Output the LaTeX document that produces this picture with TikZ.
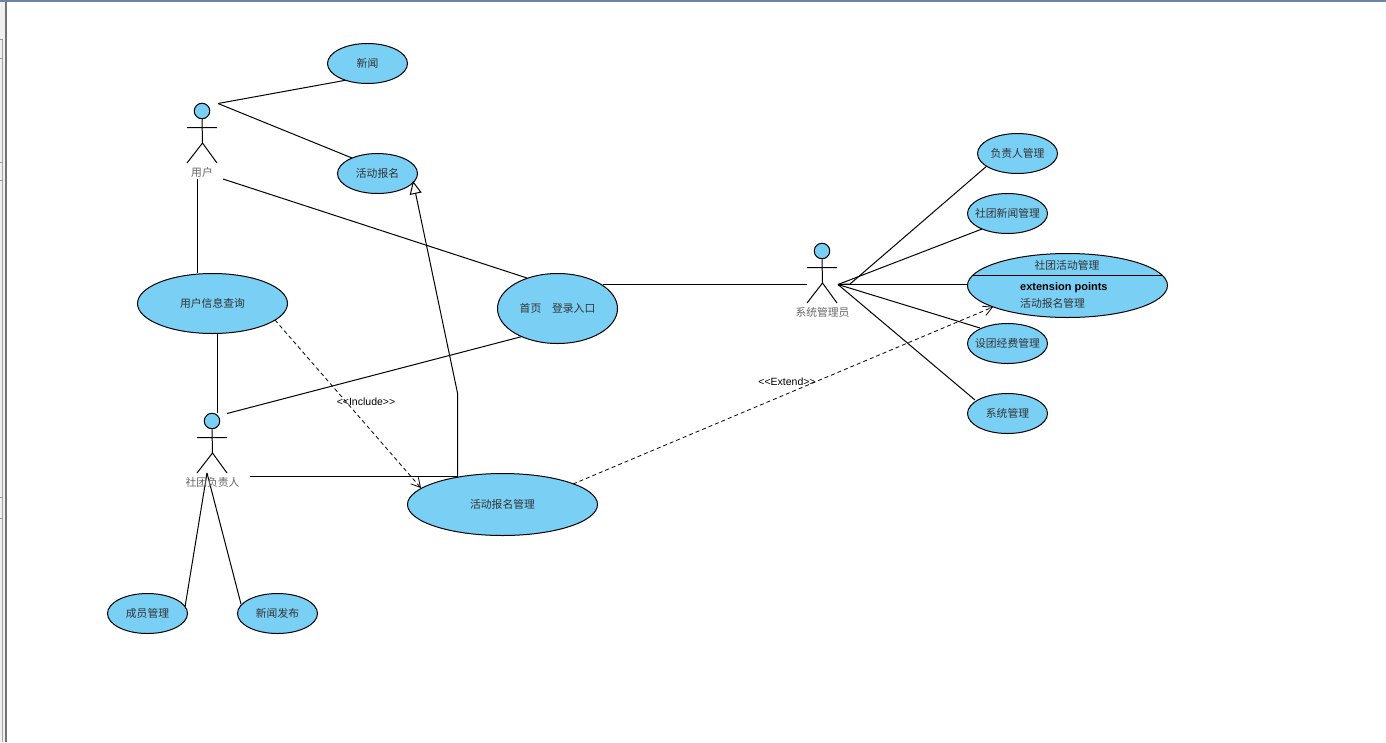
\documentclass[tikz,border=0pt]{standalone}
\usepackage{fontspec}
\setmainfont{Liberation Sans}[Ligatures=NoCommon]
\newfontfamily\cjk{Noto Sans CJK SC}
\usetikzlibrary{arrows.meta,shapes.geometric}
\definecolor{uc}{HTML}{7ACFF5}
\definecolor{txt}{HTML}{333333}
\definecolor{topbar}{HTML}{6A85A5}
\pgfdeclarelayer{front}\pgfsetlayers{main,front}
\newcommand{\uctext}[1]{\makebox[0pt]{\raisebox{-1.1pt}{#1}}}
\tikzset{
  ucase/.style={draw=black,fill=uc,ellipse,line width=1pt,inner sep=0pt,font=\cjk\fontsize{10.8}{12}\selectfont,text=txt},
  conn/.style={draw=black,line width=1pt},
  dep/.style={draw=black,line width=0.8pt,dash pattern=on 4pt off 3pt,-{Straight Barb[length=9pt,width=10pt,line width=0.8pt]}},
  gen/.style={draw=black,line width=1pt,-{Triangle[open,fill=white,length=13pt,width=12pt,line width=1pt]}},
  actlabel/.style={font=\cjk\fontsize{10.8}{12}\selectfont,text=black!60,inner sep=0pt},
  steretype/.style={font=\fontsize{10.5}{12}\selectfont,text=black,inner sep=1pt},
  stick/.style={draw=black,line width=1pt},
  head/.style={draw=black,fill=uc,circle,line width=1pt,minimum size=15.5pt,inner sep=0pt}
}
\begin{document}
\begin{tikzpicture}[x=1pt,y=-1pt]
\useasboundingbox (0,0) rectangle (1386,742);
% window chrome
\fill[white] (0,0) rectangle (1386,742);
\fill[black!6] (0,0) rectangle (5,742);
\fill[black!55] (5,0) rectangle (7,742);
\fill[black!35] (2.2,39) rectangle (3.2,742);
\foreach \yy in {39,58,162,180,497,518}{\fill[black!40] (0,\yy) rectangle (3,\yy+1);}
\fill[topbar] (0,0) rectangle (1386,2);
% free ends
\coordinate (uA) at (218,103.5);
\coordinate (uB) at (223,179);
\coordinate (uC) at (197.5,179);
\coordinate (mA) at (217.5,413);
\coordinate (mB) at (227,413.5);
\coordinate (mC) at (250,476.5);
\coordinate (mD) at (207,473);
\coordinate (aA) at (838,284.5);
\coordinate (aBend) at (850,284);
\coordinate (aB) at (807,284.5);
\coordinate (newsE) at (347,80);
\coordinate (signE) at (352,158);
\coordinate (homeA) at (527,278);
\coordinate (homeB) at (524,336);
\coordinate (homeC) at (603,284.5);
\coordinate (queryA) at (197.5,273);
\coordinate (queryB) at (217.5,333);
\coordinate (mgmtT) at (457.5,476.5);
\coordinate (bend) at (457.5,393);
\coordinate (signT) at (413,181);
\coordinate (memE) at (185,607);
\coordinate (pubE) at (241,604);
\coordinate (depI) at (275,320);
\coordinate (depIe) at (421,488);
\coordinate (depE) at (573,484);
\coordinate (depEe) at (993,307);
\coordinate (ownE) at (988,165);
\coordinate (cnE) at (982,229);
\coordinate (actE2) at (968,284.5);
\coordinate (fundE) at (980,328);
\coordinate (sysE) at (975,400);
\begin{pgfonlayer}{front}
\node[ucase,minimum width=80pt,minimum height=40pt] (news) at (367.5,63.5) {\uctext{新闻}};
\node[ucase,minimum width=80pt,minimum height=40pt] (signup) at (377.5,173.5) {\uctext{活动报名}};
\node[ucase,minimum width=150pt,minimum height=60pt] (query) at (212.5,303.5) {\uctext{用户信息查询}};
\node[ucase,minimum width=120pt,minimum height=70pt] (home) at (557.5,308.5) {\uctext{首页\hspace{1em}登录入口}};
\node[ucase,minimum width=190pt,minimum height=62pt] (mgmt) at (502.5,504.5) {\uctext{活动报名管理}};
\node[ucase,minimum width=80pt,minimum height=40pt] (owner) at (1017.5,153.5) {\uctext{负责人管理}};
\node[ucase,minimum width=80pt,minimum height=40pt] (cnews) at (1007.5,213.5) {\uctext{社团新闻管理}};
\node[ucase,minimum width=200pt,minimum height=64pt] (act) at (1067.5,285.5) {};
\draw[black,line width=1pt] (972,275.5) -- (1163,275.5);
\node[font=\cjk\fontsize{10.8}{12}\selectfont,text=txt,inner sep=0pt] (actT) at (1067,265.5) {社团活动管理};
\node[font=\bfseries\fontsize{11}{13}\selectfont,text=black,inner sep=0pt,anchor=west] (actX) at (1020,288) {extension points};
\node[font=\cjk\fontsize{10.8}{12}\selectfont,text=txt,inner sep=0pt,anchor=west] (actP) at (1020,303.5) {活动报名管理};
\node[ucase,minimum width=80pt,minimum height=40pt] (fund) at (1007.5,343.5) {\uctext{设团经费管理}};
\node[ucase,minimum width=80pt,minimum height=40pt] (sys) at (1007.5,413.5) {\uctext{系统管理}};
\node[ucase,minimum width=80pt,minimum height=40pt] (member) at (147.5,613.5) {\uctext{成员管理}};
\node[ucase,minimum width=80pt,minimum height=40pt] (publish) at (277.5,613.5) {\uctext{新闻发布}};
\end{pgfonlayer}
% associations
\draw[conn] (uA) -- (newsE);
\draw[conn] (uA) -- (signE);
\draw[conn] (uB) -- (homeA);
\draw[conn] (uC) -- (queryA);
\draw[conn] (queryB) -- (mA);
\draw[conn] (mB) -- (homeB);
\draw[conn] (homeC) -- (aB);
\draw[conn] (mC) -- (mgmtT);
\draw[conn] (aA) -- (aBend) -- (ownE);
\draw[conn] (aA) -- (cnE);
\draw[conn] (aA) -- (actE2);
\draw[conn] (aA) -- (fundE);
\draw[conn] (aA) -- (sysE);
\draw[conn] (mD) -- (memE);
\draw[conn] (mD) -- (pubE);
% actors
\node[head] (user) at (202,111) {};
\draw[stick] (user.south) -- (202.5,143) (187,127.5) -- (217,127.5) (187,163) -- (202.5,143) -- (217,163);
\node[actlabel] (userL) at (202,172) {用户};
\node[head] (admin) at (822,251) {};
\draw[stick] (admin.south) -- (822.5,283) (807,267.5) -- (837,267.5) (807,303) -- (822.5,283) -- (837,303);
\node[actlabel] (adminL) at (822.5,312) {系统管理员};
\node[head] (lead) at (212,421) {};
\draw[stick] (lead.south) -- (212.5,453) (197,437.5) -- (227,437.5) (197,473) -- (212.5,453) -- (227,473);
\node[actlabel] (leadL) at (212.5,482) {社团负责人};
% dependencies and labels
\begin{pgfonlayer}{front}
\draw[gen] (mgmtT) -- (bend) -- (signT);
\draw[dep] (depI) -- (depIe);
\draw[dep] (depE) -- (depEe);
\node[steretype] (incl) at (366,401.5) {{<}{<}Include{>}{>}};
\node[steretype] (ext) at (787,381.5) {{<}{<}Extend{>}{>}};
\end{pgfonlayer}
\end{tikzpicture}
\end{document}
